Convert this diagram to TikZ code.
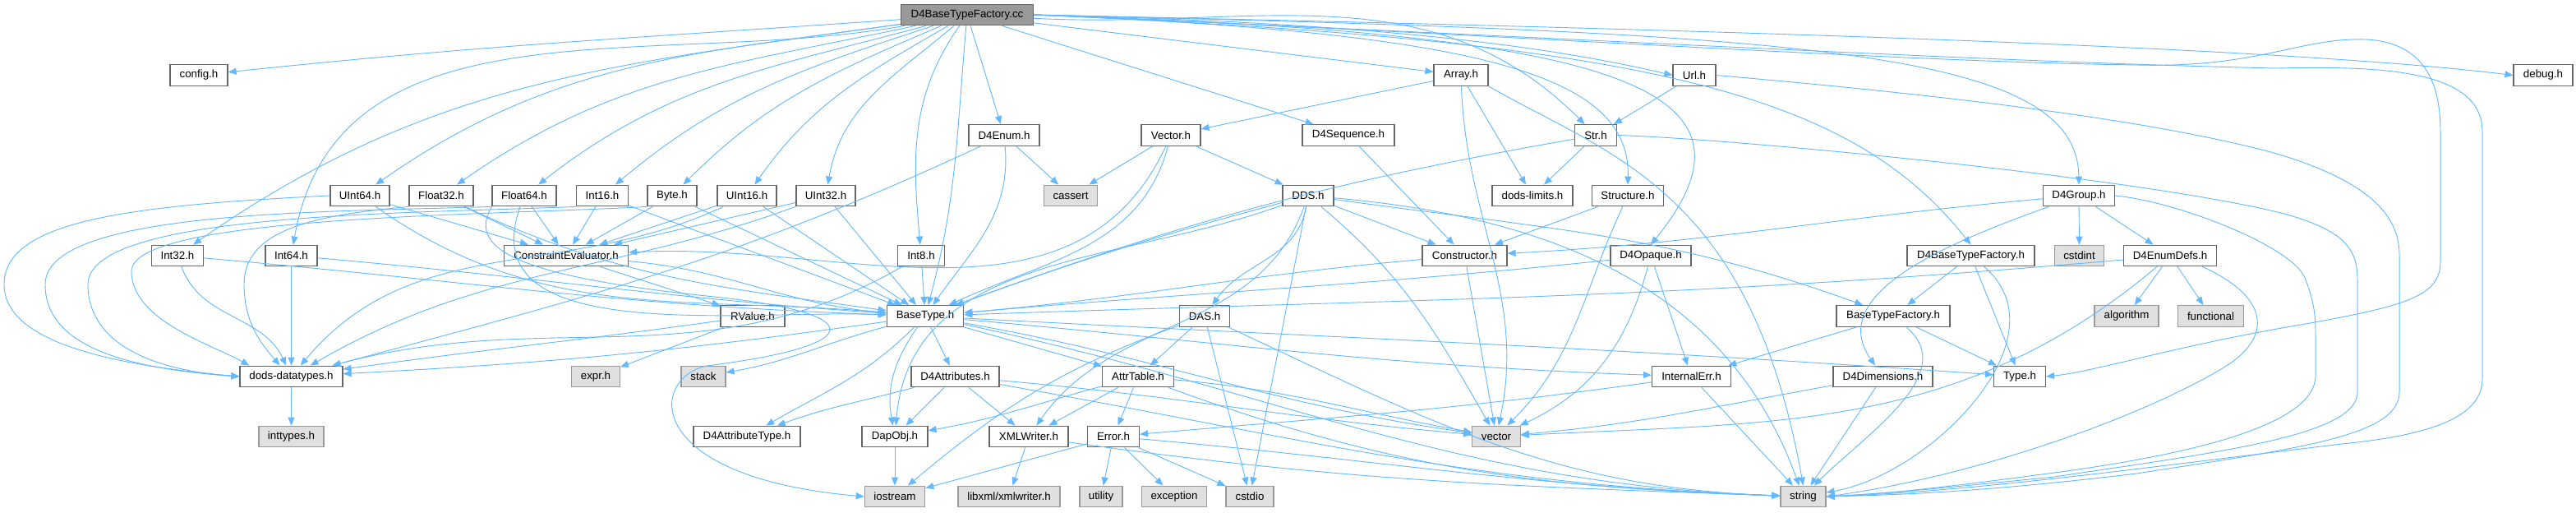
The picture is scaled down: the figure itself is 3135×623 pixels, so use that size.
\documentclass[tikz,border=0pt]{standalone}
\usepackage{fontspec}
\setmainfont{Liberation Sans}
\usetikzlibrary{arrows.meta}

\definecolor{linkblue}{HTML}{63B8FF}
\definecolor{boxline}{HTML}{666666}
\definecolor{sysline}{HTML}{999999}
\definecolor{sysfill}{HTML}{E0E0E0}
\definecolor{mainfill}{HTML}{999999}

\begin{document}
\begin{tikzpicture}[
    x=0.25pt, y=0.25pt,
    >={Triangle[length=2.5pt,width=2pt]},
    file/.style={
        rectangle,
        draw=boxline,
        fill=white,
        line width=0.3pt,
        minimum height=6.4pt,
        inner xsep=0.5pt,
        inner ysep=0pt,
        font=\fontsize{3.33}{4}\selectfont
    },
    sysfile/.style={
        file,
        draw=sysline,
        fill=sysfill
    },
    mainfile/.style={
        file,
        fill=mainfill
    },
    w/.style={minimum width=#1*0.25pt},
    link/.style={
        ->,
        draw=linkblue,
        line width=0.23pt
    }
]
\useasboundingbox (0,0) rectangle (3135,-623);

% Layer 0
\node[mainfile, w=161] (factory) at (1177,-18) {D4BaseTypeFactory.cc};

% Layer 1
\node[file, w=70] (config) at (242,-91.5) {config.h};
\node[file, w=66] (array) at (1778,-91.5) {Array.h};
\node[file, w=52] (url) at (2062,-91.5) {Url.h};
\node[file, w=72] (debug) at (3095,-91.5) {debug.h};

% Layer 2
\node[file, w=86] (d4enum) at (1222,-164.5) {D4Enum.h};
\node[file, w=72] (vectorh) at (1425,-164.5) {Vector.h};
\node[file, w=112] (d4seq) at (1641,-164.5) {D4Sequence.h};
\node[file, w=51] (strh) at (1942,-164.5) {Str.h};

% Layer 3
\node[file, w=72] (uint64) at (438,-238) {UInt64.h};
\node[file, w=78] (float32) at (537,-238) {Float32.h};
\node[file, w=78] (float64) at (638,-238) {Float64.h};
\node[file, w=63] (int16) at (733,-238) {Int16.h};
\node[file, w=60] (byteh) at (818,-238) {Byte.h};
\node[file, w=72] (uint16) at (909,-238) {UInt16.h};
\node[file, w=72] (uint32) at (1005,-238) {UInt32.h};
\node[sysfile, w=65] (cassert) at (1303,-238) {cassert};
\node[file, w=62] (dds) at (1592,-238) {DDS.h};
\node[file, w=98] (limits) at (1865,-238) {dods-limits.h};
\node[file, w=87] (structure) at (1981,-238) {Structure.h};
\node[file, w=87] (d4group) at (2530,-238) {D4Group.h};

% Layer 4
\node[file, w=63] (int32) at (216,-311) {Int32.h};
\node[file, w=63] (int64) at (354.5,-311) {Int64.h};
\node[file, w=151] (ce) at (689,-311) {ConstraintEvaluator.h};
\node[file, w=57] (int8) at (1121,-311) {Int8.h};
\node[file, w=103] (constructor) at (1782.5,-311) {Constructor.h};
\node[file, w=98] (d4opaque) at (2009,-311) {D4Opaque.h};
\node[file, w=155] (d4btf) at (2398.5,-311) {D4BaseTypeFactory.h};
\node[sysfile, w=60] (cstdint) at (2530.5,-311) {cstdint};
\node[file, w=113] (enumdefs) at (2641,-311) {D4EnumDefs.h};

% Layer 5
\node[file, w=78] (rvalue) at (916,-384.5) {RValue.h};
\node[file, w=93.5] (basetype) at (1126,-384.5) {BaseType.h};
\node[file, w=60.5] (das) at (1466,-384.5) {DAS.h};
\node[file, w=138] (btf) at (2304,-384.5) {BaseTypeFactory.h};
\node[sysfile, w=78] (algorithm) at (2588,-384.5) {algorithm};
\node[sysfile, w=80] (functional) at (2690.5,-384.5) {functional};

% Layer 6
\node[file, w=125] (datatypes) at (354.5,-458) {dods-datatypes.h};
\node[sysfile, w=59] (expr) at (725,-458) {expr.h};
\node[sysfile, w=54] (stack) at (856,-458) {stack};
\node[file, w=107] (d4attrs) at (1162.5,-458) {D4Attributes.h};
\node[file, w=87] (attrtable) at (1385,-458) {AttrTable.h};
\node[file, w=96] (internalerr) at (2058.5,-458) {InternalErr.h};
\node[file, w=121] (d4dims) at (2291.5,-458) {D4Dimensions.h};
\node[file, w=63] (typeh) at (2458,-458) {Type.h};

% Layer 7
\node[sysfile, w=79] (inttypes) at (354.5,-531) {inttypes.h};
\node[file, w=130] (d4attrtype) at (909,-531) {D4AttributeType.h};
\node[file, w=80] (dapobj) at (1089,-531) {DapObj.h};
\node[file, w=96] (xmlwriter) at (1252,-531) {XMLWriter.h};
\node[file, w=63] (errorh) at (1355,-531) {Error.h};
\node[sysfile, w=58.5] (vector) at (1821,-531) {vector};

% Layer 8
\node[sysfile, w=73.5] (iostream) at (1089,-604) {iostream};
\node[sysfile, w=124] (libxml) at (1228,-604) {libxml/xmlwriter.h};
\node[sysfile, w=52] (utility) at (1340,-604) {utility};
\node[sysfile, w=79] (exception) at (1429,-604) {exception};
\node[sysfile, w=58] (cstdio) at (1521,-604) {cstdio};
\node[sysfile, w=55] (string) at (2194.5,-604) {string};

% Edges from D4BaseTypeFactory.cc
\draw[link] (factory) to[out=184,in=6] (config);
\draw[link] (factory) to[out=188,in=35] (int32);
\draw[link] (factory) to[out=190,in=80] (int64);
\draw[link] (factory) to[out=188,in=35] (uint64);
\draw[link] (factory) to[out=192,in=35] (float32);
\draw[link] (factory) to[out=195,in=38] (float64);
\draw[link] (factory) to[out=198,in=40] (int16);
\draw[link] (factory) to[out=203,in=45] (byteh);
\draw[link] (factory) to[out=210,in=55] (uint16);
\draw[link] (factory) to[out=220,in=80] (uint32);
\draw[link] (factory) to[out=235,in=95] (int8);
\draw[link] (factory) to[out=-95,in=75] (basetype);
\draw[link] (factory) -- (d4enum);
\draw[link] (factory) -- (d4seq);
\draw[link] (factory) -- (array);
\draw[link] (factory) to[out=-3,in=135] (strh);
\draw[link] (factory.east) .. controls (1800,-40) and (1985,-90) .. (structure.north);
\draw[link] (factory.east) .. controls (1700,-28) and (1900,-60) .. (url.west);
\draw[link] (factory.east) .. controls (1950,-40) and (2170,-100) .. (d4opaque.north);
\draw[link] (factory.east) .. controls (2000,-50) and (2250,-110) .. (d4btf.north);
\draw[link] (factory.east) .. controls (2200,-40) and (2528,-60) .. (d4group.north);
\draw[link] (factory.east) .. controls (2200,-38) and (2800,-60) .. (debug.west);
\draw[link] (factory.east) .. controls (1800,-40) and (2300,-75) .. (2600,-79)
    .. controls (2750,-83) and (2800,-45) .. (2880,-48)
    .. controls (2950,-52) and (2970,-100) .. (2970,-160) -- (2970,-318)
    .. controls (2970,-360) and (2930,-372) .. (2800,-395)
    .. controls (2650,-420) and (2550,-452) .. (typeh.east);
\draw[link] (factory.east) .. controls (1900,-45) and (2400,-75) .. (2771,-83)
    .. controls (2900,-80) and (3021,-85) .. (3021,-160) -- (3021,-461)
    .. controls (3021,-510) and (2950,-530) .. (2850,-540)
    .. controls (2600,-570) and (2400,-598) .. (string.east);

% Layer 1 edges
\draw[link] (array) -- (vectorh);
\draw[link] (array) -- (limits);
\draw[link] (array) to[out=-88,in=78] (vector);
\draw[link] (array.south east) .. controls (1960,-190) and (2130,-230) .. (string.north);
\draw[link] (url) -- (strh);
\draw[link] (url.east) .. controls (2300,-110) and (2600,-140) .. (2771,-187)
    .. controls (2880,-220) and (2920,-260) .. (2920,-310) -- (2920,-477)
    .. controls (2920,-530) and (2800,-545) .. (2600,-576)
    .. controls (2400,-600) and (2300,-602) .. (string.east);

% Layer 2 edges
\draw[link] (d4enum) -- (cassert);
\draw[link] (d4enum) to[out=-85,in=55] (basetype);
\draw[link] (d4enum) to[out=205,in=15] (datatypes);
\draw[link] (vectorh) -- (cassert);
\draw[link] (vectorh) -- (dds);
\draw[link] (vectorh) to[out=-105,in=25] (basetype);
\draw[link] (vectorh) to[out=-115,in=3] (ce);
\draw[link] (d4seq) -- (constructor);
\draw[link] (strh) -- (limits);
\draw[link] (strh) to[out=190,in=20] (basetype);
\draw[link] (strh.east) .. controls (2100,-168) and (2600,-215) .. (2780,-260)
    .. controls (2850,-280) and (2869,-300) .. (2869,-340) -- (2869,-477)
    .. controls (2869,-530) and (2700,-550) .. (2500,-580)
    .. controls (2350,-595) and (2300,-600) .. (string.east);

% Layer 3 edges
\draw[link] (uint64) -- (ce);
\draw[link] (float32) -- (ce);
\draw[link] (float64) -- (ce);
\draw[link] (int16) -- (ce);
\draw[link] (byteh) -- (ce);
\draw[link] (uint16) -- (ce);
\draw[link] (uint32) -- (ce);

\draw[link] (uint64) to[out=-35,in=175] (basetype);
\draw[link] (float32) to[out=-25,in=172] (basetype);
\draw[link] (float64) to[out=-110,in=178] (basetype);
\draw[link] (int16) -- (basetype);
\draw[link] (byteh) -- (basetype);
\draw[link] (uint16) -- (basetype);
\draw[link] (uint32) -- (basetype);

\draw[link] (uint64.west) .. controls (150,-250) and (5,-270) .. (5,-346)
    .. controls (5,-420) and (150,-445) .. (datatypes.west);
\draw[link] (float64.south west) .. controls (400,-258) and (55,-255) .. (55,-346)
    .. controls (55,-420) and (150,-448) .. (datatypes.west);
\draw[link] (int16.south west) .. controls (500,-260) and (107,-258) .. (107,-346)
    .. controls (107,-415) and (180,-450) .. (datatypes.west);
\draw[link] (byteh.south west) .. controls (600,-262) and (160,-262) .. (160,-330)
    .. controls (160,-390) and (260,-420) .. ([xshift=3pt]datatypes.north west);
\draw[link] (float32.south west) .. controls (380,-262) and (297,-280) .. (297,-346)
    .. controls (297,-395) and (320,-420) .. ([xshift=-3.5pt]datatypes.north);
\draw[link] (uint16) to[out=205,in=50] (datatypes);
\draw[link] (uint32) to[out=200,in=30] (datatypes);
\draw[link] (float64.south west) .. controls (570,-300) and (620,-335) .. (860,-360)
    .. controls (1060,-380) and (1060,-420) .. (860,-445)
    .. controls (790,-460) and (780,-580) .. (iostream.west);

\draw[link] (dds) to[out=195,in=20] (basetype);
\draw[link] (dds) -- (constructor);
\draw[link] (dds) to[out=-100,in=55] (das);
\draw[link] (dds) -- (cstdio);
\draw[link] (dds) to[out=-40,in=120] (vector);
\draw[link] (dds) to[out=-5,in=110] (string);
\draw[link] (dds) to[out=-8,in=160] (btf);
\draw[link] (dds) to[out=-110,in=55] (xmlwriter);
\draw[link] (dds) to[out=200,in=85] (dapobj);

\draw[link] (structure) -- (constructor);
\draw[link] (structure) to[out=-115,in=45] (vector);

\draw[link] (d4group) to[out=185,in=3] (constructor);
\draw[link] (d4group) to[out=200,in=125] (d4dims);
\draw[link] (d4group) -- (cstdint);
\draw[link] (d4group) -- (enumdefs);
\draw[link] (d4group.east) .. controls (2650,-245) and (2790,-300) .. (2805,-338)
    .. controls (2818,-370) and (2818,-390) .. (2818,-410) -- (2818,-457)
    .. controls (2818,-520) and (2650,-555) .. (2500,-575)
    .. controls (2350,-595) and (2300,-600) .. (string.east);

% Layer 4 edges
\draw[link] (int32) to[out=-70,in=115] (datatypes);
\draw[link] (int32) to[out=-5,in=178] (basetype);
\draw[link] (int64) -- (datatypes);
\draw[link] (int64) to[out=-5,in=176] (basetype);
\draw[link] (int8) -- (basetype);
\draw[link] (int8) to[out=210,in=15] (datatypes);
\draw[link] (ce) -- (rvalue);
\draw[link] (ce) to[out=-5,in=175] (basetype);
\draw[link] (constructor) to[out=185,in=5] (basetype);
\draw[link] (constructor) -- (vector);
\draw[link] (d4opaque) to[out=186,in=5] (basetype);
\draw[link] (d4opaque) to[out=-105,in=25] (vector);
\draw[link] (d4opaque) -- (internalerr);
\draw[link] (d4btf) -- (btf);
\draw[link] (d4btf) -- (typeh);
\draw[link] (d4btf) to[out=-40,in=10] (string);
\draw[link] (enumdefs) to[out=185,in=2] (basetype);
\draw[link] (enumdefs) -- (algorithm);
\draw[link] (enumdefs) -- (functional);
\draw[link] (enumdefs) to[out=-140,in=3] (vector);
\draw[link] ([xshift=-4.5pt]enumdefs.south east) .. controls (2760,-360) and (2770,-410) .. (2703,-449)
    .. controls (2600,-510) and (2400,-580) .. (string.east);

% Layer 5 edges
\draw[link] (rvalue) -- (expr);
\draw[link] (rvalue) to[out=188,in=8] (datatypes);
\draw[link] (basetype) -- (d4attrs);
\draw[link] (basetype) -- (attrtable);
\draw[link] (basetype) to[out=-125,in=100] (dapobj);
\draw[link] (basetype) to[out=-135,in=30] (d4attrtype);
\draw[link] (basetype) to[out=195,in=10] (stack);
\draw[link] (basetype) to[out=188,in=3] (datatypes);
\draw[link] (basetype) to[out=-10,in=172] (vector);
\draw[link] (basetype) to[out=-12,in=178] (string);
\draw[link] (basetype) to[out=-5,in=178] (internalerr);
\draw[link] (basetype) to[out=-3,in=176] (typeh);
\draw[link] (das) -- (attrtable);
\draw[link] (das) -- (cstdio);
\draw[link] (das) to[out=-25,in=178] (string);
\draw[link] (das) to[out=200,in=40] (iostream);
\draw[link] (btf) -- (internalerr);
\draw[link] (btf) -- (typeh);
\draw[link] (btf) to[out=-40,in=45] (string);

% Layer 6 edges
\draw[link] (datatypes) -- (inttypes);
\draw[link] (d4attrs) to[out=195,in=20] (d4attrtype);
\draw[link] (d4attrs) -- (dapobj);
\draw[link] (d4attrs) -- (xmlwriter);
\draw[link] (d4attrs) to[out=-5,in=175] (vector);
\draw[link] (d4attrs) to[out=-10,in=178] (string);
\draw[link] (attrtable) to[out=195,in=10] (dapobj);
\draw[link] (attrtable) -- (xmlwriter);
\draw[link] (attrtable) -- (errorh);
\draw[link] (attrtable) to[out=-5,in=170] (vector);
\draw[link] (attrtable) to[out=-20,in=178] (string);
\draw[link] (internalerr) to[out=188,in=5] (errorh);
\draw[link] (internalerr) -- (string);
\draw[link] (d4dims) to[out=190,in=5] (vector);
\draw[link] (d4dims) -- (string);

% Layer 7 edges
\draw[link] (dapobj) -- (iostream);
\draw[link] (xmlwriter) -- (libxml);
\draw[link] (xmlwriter) to[out=-8,in=178] (string);
\draw[link] (errorh) -- (iostream);
\draw[link] (errorh) -- (utility);
\draw[link] (errorh) -- (exception);
\draw[link] (errorh) -- (cstdio);
\draw[link] (errorh) to[out=-5,in=178] (string);

\end{tikzpicture}
\end{document}
